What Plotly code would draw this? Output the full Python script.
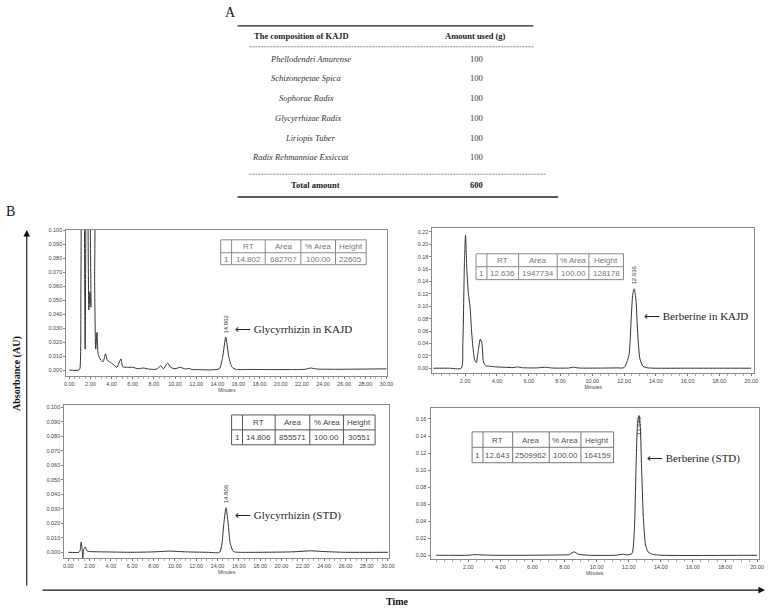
import plotly.graph_objects as go

W, H = 773, 608

# ---------------- Part A: composition table ----------------
table_headers = ["The composition of KAJD", "Amount used (g)"]
herbs = ["Phellodendri Amurense", "Schizonepetae Spica", "Sophorae Radix",
         "Glycyrrhizae Radix", "Liriopis Tuber", "Radix Rehmanniae Exsiccat"]
amounts = [100, 100, 100, 100, 100, 100]
total_label = "Total amount"
total_amount = 600

# ---------------- Part B: chromatograms ----------------
# Glycyrrhizin in KAJD (top-left)
tl_time = [0.0, 0.9, 1.0, 1.1, 1.15, 1.3, 1.42, 1.5, 1.58, 1.7, 1.85, 1.95, 2.05, 2.12,
           2.3, 2.4, 2.5, 2.62, 2.72, 2.85, 3.0, 3.2, 3.43, 3.6, 3.8, 4.0, 4.2, 4.5,
           4.88, 5.05, 5.5, 6.0, 6.5, 7.0, 7.5, 8.0, 8.3, 8.65, 8.9, 9.3, 9.6, 10.0,
           10.5, 11.0, 11.3, 11.6, 12.5, 13.5, 14.2, 14.5, 14.8, 15.1, 15.4, 15.8,
           17.0, 19.0, 21.0, 22.3, 22.8, 23.4, 25.0, 27.0, 30.0]
tl_abs = [0.0, 0.0, 0.001, 0.06, 0.14, 0.2, 0.12, 0.015, 0.12, 0.2, 0.043, 0.056, 0.045, 0.15,
          0.15, 0.06, 0.015, 0.027, 0.012, 0.009, 0.007, 0.006, 0.0117, 0.007, 0.006, 0.005, 0.004, 0.002,
          0.008, 0.0025, 0.002, 0.002, 0.001, 0.0015, 0.0008, 0.0005, 0.0008, 0.003, 0.001, 0.005, 0.002, 0.001,
          0.002, 0.0008, 0.0012, 0.0005, 0.0003, 0.0002, 0.001, 0.009, 0.0235, 0.009, 0.002, 0.0005,
          0.0005, 0.0004, 0.0004, 0.0006, 0.0015, 0.0008, 0.0006, 0.0007, 0.0009]

# Glycyrrhizin (STD) (bottom-left)
bl_time = [0.0, 1.0, 1.1, 1.2, 1.3, 1.36, 1.45, 1.6, 1.75, 2.0, 2.3, 4.0, 6.0, 8.0, 9.5, 11.0,
           13.0, 14.2, 14.4, 14.6, 14.8, 15.0, 15.2, 15.5, 16.0, 18.0, 21.0, 22.8, 24.0, 26.0, 30.0]
bl_abs = [0.0, 0.0, 0.001, 0.007, 0.002, -0.004, 0.002, 0.0037, 0.001, 0.0005, 0.0004, 0.0002, 0.0, 0.0003,
          0.0008, 0.0003, 0.0, 0.0, 0.005, 0.02, 0.0307, 0.02, 0.006, 0.0005, 0.0, 0.0, 0.0003, 0.001,
          0.0005, 0.0, 0.0]

# Berberine in KAJD (top-right)
tr_time = [0.0, 1.0, 1.75, 1.85, 1.95, 2.02, 2.1, 2.2, 2.3, 2.4, 2.5, 2.6, 2.7, 2.8, 2.95,
           3.05, 3.15, 3.3, 3.6, 4.0, 4.5, 5.0, 5.3, 5.6, 6.5, 7.0, 7.5, 8.5, 8.8, 9.2, 10.5,
           11.5, 12.0, 12.3, 12.45, 12.55, 12.64, 12.75, 12.85, 13.0, 13.2, 13.5, 14.0, 16.0,
           18.0, 20.0]
tr_abs = [0.0, 0.0, 0.0, 0.04, 0.17, 0.215, 0.16, 0.12, 0.1, 0.06, 0.03, 0.013, 0.009, 0.025, 0.047,
          0.04, 0.01, 0.004, 0.003, 0.002, 0.0015, 0.001, 0.002, 0.0008, 0.0005, 0.0015, 0.0003, 0.0003,
          0.0015, 0.0003, 0.0002, 0.0005, 0.001, 0.02, 0.08, 0.12, 0.128, 0.11, 0.06, 0.015, 0.003,
          0.0005, 0.0, 0.0, 0.0, 0.0]

# Berberine (STD) (bottom-right)
br_time = [0.0, 2.0, 2.5, 2.8, 3.5, 6.0, 7.5, 8.3, 8.6, 8.85, 9.5, 11.2, 11.6, 11.9, 12.2,
           12.35, 12.45, 12.55, 12.64, 12.72, 12.82, 12.92, 13.05, 13.2, 13.5, 14.0, 20.0]
br_abs = [0.0, 0.0, 0.0008, 0.0004, 0.0, 0.0, 0.0003, 0.0008, 0.004, 0.0012, 0.0, 0.0, 0.0012, 0.0003,
          0.002, 0.03, 0.1, 0.155, 0.164, 0.15, 0.09, 0.04, 0.012, 0.004, 0.001, 0.0, 0.0]

inset_header = ["", "RT", "Area", "% Area", "Height"]
tl_row = ["1", "14.802", "682707", "100.00", "22605"]
tr_row = ["1", "12.636", "1947734", "100.00", "128178"]
bl_row = ["1", "14.806", "855571", "100.00", "30551"]
br_row = ["1", "12.643", "2509962", "100.00", "164159"]

peak_labels = {"tl": ("14.802", 14.802, 0.0235), "bl": ("14.806", 14.806, 0.0307),
               "tr": ("12.636", 12.636, 0.128), "br": ("12.643", 12.643, 0.164)}
peak_names = {"tl": "Glycyrrhizin in KAJD", "bl": "Glycyrrhizin (STD)",
              "tr": "Berberine in KAJD", "br": "Berberine (STD)"}

y_title = "Absorbance (AU)"
x_title = "Time"


def px(x):
    return x / W


def py(y):
    return 1 - y / H


SERIF = "Liberation Serif, Times New Roman, serif"
SANS = "Liberation Sans, Arial, sans-serif"

fig = go.Figure()
shapes = []
annos = []

# ---------- chromatogram traces ----------
series = [("x", "y", tl_time, tl_abs), ("x2", "y2", tr_time, tr_abs),
          ("x3", "y3", bl_time, bl_abs), ("x4", "y4", br_time, br_abs)]
for xa, ya, t, v in series:
    fig.add_trace(go.Scatter(x=t, y=v, xaxis=xa, yaxis=ya, mode="lines",
                             line=dict(color="#333333", width=1, shape="spline", smoothing=0.6),
                             hoverinfo="skip", showlegend=False))

ax_common = dict(showline=True, linecolor="#8a8a8a", linewidth=1, mirror=True,
                 ticks="outside", ticklen=2, tickwidth=0.8, tickcolor="#666",
                 tickfont=dict(family=SANS, size=5.5, color="#444"),
                 showgrid=False, zeroline=False, fixedrange=True)


def xaxis(dom, rng, vals, anchor):
    d = dict(ax_common)
    d.update(domain=[px(dom[0]), px(dom[1])], range=rng, anchor=anchor,
             tickmode="array", tickvals=vals, ticktext=["%.2f" % v for v in vals],
             minor=dict(ticks="outside", ticklen=1.5, dtick=0.5, tick0=0, tickcolor="#999"),
             title=dict(text="Minutes", font=dict(family=SANS, size=5, color="#444"), standoff=1))
    return d


def yaxis(dom, rng, dtick, fmt, anchor):
    d = dict(ax_common)
    d.update(domain=[py(dom[1]), py(dom[0])], range=rng, anchor=anchor,
             dtick=dtick, tick0=0, tickformat=fmt)
    return d


x30 = [i * 2 for i in range(16)]
x20 = [i * 2 for i in range(1, 11)]

fig.update_layout(
    xaxis=xaxis((65, 389), [-0.28, 30.05], x30, "y"),
    yaxis=yaxis((228, 375), [-0.0043, 0.1003], 0.01, ".3f", "x"),
    xaxis2=xaxis((435, 760), [-0.06, 20.19], x20, "y2"),
    yaxis2=yaxis((226, 372), [-0.008, 0.2264], 0.02, ".2f", "x2"),
    xaxis3=xaxis((63, 391), [-0.37, 30.09], x30, "y3"),
    yaxis3=yaxis((404, 558), [-0.0041, 0.1014], 0.01, ".3f", "x3"),
    xaxis4=xaxis((433, 765), [-0.35, 20.12], x20, "y4"),
    yaxis4=yaxis((407, 559), [-0.0047, 0.1729], 0.02, ".2f", "x4"),
)

# ---------- Part A table ----------
def hline(x0, x1, y, width=1.0, color="#222", dash="solid"):
    shapes.append(dict(type="line", xref="paper", yref="paper", x0=px(x0), x1=px(x1),
                       y0=py(y), y1=py(y), line=dict(color=color, width=width, dash=dash)))


hline(238, 537, 23, 1.3)
hline(250, 537, 44, 0.8, "#666", "2px,1px")
hline(250, 550, 172, 0.8, "#666", "2px,1px")
hline(238, 562, 195, 1.5)


def text(x, y, s, size=8.5, color="#222", family=SERIF, xanchor="center", angle=0):
    annos.append(dict(x=px(x), y=py(y), xref="paper", yref="paper", text=s, showarrow=False,
                      xanchor=xanchor, yanchor="middle", textangle=angle,
                      font=dict(family=family, size=size, color=color)))


text(231, 10, "A", size=14, color="#111")
text(303, 33, "<b>%s</b>" % table_headers[0])
text(478, 33, "<b>%s</b>" % table_headers[1])
name_cx = [312, 307, 308, 309, 312, 302]
for i, (h, a) in enumerate(zip(herbs, amounts)):
    yy = 56 + i * 19.8
    text(name_cx[i], yy, "<i>%s</i>" % h, color="#333")
    text(479, yy, str(a), color="#333")
text(317, 183, "<b>%s</b>" % total_label)
text(479, 183, "<b>%d</b>" % total_amount)

# ---------- Part B frame ----------
text(9, 210, "B", size=14, color="#111")
annos.append(dict(x=px(25), y=py(228), ax=0, ay=357, xref="paper", yref="paper",
                  axref="pixel", ayref="pixel", text="", showarrow=True,
                  arrowhead=2, arrowsize=1.2, arrowwidth=1.1, arrowcolor="#111"))
annos.append(dict(x=px(771), y=py(590), ax=-724, ay=0, xref="paper", yref="paper",
                  axref="pixel", ayref="pixel", text="", showarrow=True,
                  arrowhead=2, arrowsize=1.2, arrowwidth=1.1, arrowcolor="#111"))
text(15, 372, "<b>%s</b>" % y_title, size=10, color="#111", angle=-90)
text(400, 601, "<b>%s</b>" % x_title, size=10, color="#111")


# ---------- inset result tables ----------
def inset(xs, ys, row, line_color, text_color):
    shapes.append(dict(type="rect", xref="paper", yref="paper", x0=px(xs[0]), x1=px(xs[-1]),
                       y0=py(ys[-1]), y1=py(ys[0]), line=dict(color=line_color, width=1),
                       fillcolor="white", layer="above"))
    for xv in xs[1:-1]:
        shapes.append(dict(type="line", xref="paper", yref="paper", x0=px(xv), x1=px(xv),
                           y0=py(ys[-1]), y1=py(ys[0]), line=dict(color=line_color, width=1)))
    shapes.append(dict(type="line", xref="paper", yref="paper", x0=px(xs[0]), x1=px(xs[-1]),
                       y0=py(ys[1]), y1=py(ys[1]), line=dict(color=line_color, width=1)))
    for r, cells in enumerate([inset_header, row]):
        for c, s in enumerate(cells):
            if s:
                text((xs[c] + xs[c + 1]) / 2, (ys[r] + ys[r + 1]) / 2 + 0.5, s,
                     size=8, color=text_color, family=SANS)


inset([221, 232, 266, 302, 337, 368], [238, 251, 263], tl_row, "#8a8a8a", "#777")
inset([479, 490, 522, 561, 593, 628], [252, 265, 278], tr_row, "#8a8a8a", "#777")
inset([232, 243, 276, 311, 345, 377], [414, 429, 444], bl_row, "#555", "#444")
inset([475, 486, 516, 553, 585, 618], [431, 446.5, 462], br_row, "#777", "#555")

# ---------- peak labels ----------
axes_for = {"tl": ("x", "y"), "tr": ("x2", "y2"), "bl": ("x3", "y3"), "br": ("x4", "y4")}
for k, (lab, xt, yv) in peak_labels.items():
    xr, yr = axes_for[k]
    if k == "br":
        annos.append(dict(x=xt, y=yv, xref=xr, yref=yr, text=lab, textangle=-90, showarrow=False,
                          yanchor="top", yshift=1, font=dict(family=SANS, size=6, color="#333")))
    else:
        annos.append(dict(x=xt, y=yv, xref=xr, yref=yr, text=lab, textangle=-90, showarrow=False,
                          yanchor="bottom", yshift=2, font=dict(family=SANS, size=6, color="#333")))

arrow_pos = {"tl": (233, 328), "bl": (233, 515), "tr": (647, 315), "br": (650, 458)}
for k, (x0, y0) in arrow_pos.items():
    text(x0, y0, "\u27f5 " + peak_names[k], size=11, color="#222", xanchor="left")

fig.update_layout(width=W, height=H, margin=dict(l=0, r=0, t=0, b=0),
                  paper_bgcolor="white", plot_bgcolor="white", showlegend=False,
                  shapes=shapes, annotations=annos)

fig.write_html("out.html", config={"displayModeBar": False, "staticPlot": True},
               post_script="document.body.style.margin='0px';document.body.style.padding='0px';")
